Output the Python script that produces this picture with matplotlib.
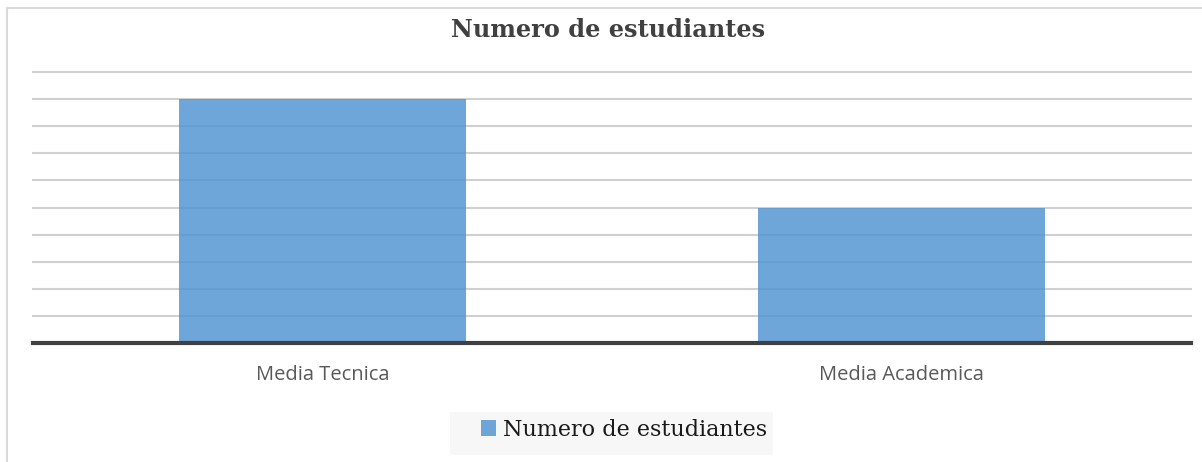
import matplotlib.pyplot as plt
from matplotlib.patches import Rectangle

categories = ['Media Tecnica', 'Media Academica']
estudiantes = [9, 5]
series_name = 'Numero de estudiantes'
title = 'Numero de estudiantes'

fig = plt.figure(figsize=(12.02, 4.62), dpi=100)

# light frame like the excel chart area
fig.add_artist(Rectangle((7 / 1202, -0.1), 1.2, (462 - 8) / 462 + 0.1, transform=fig.transFigure,
                         facecolor='none', edgecolor='#d9d9d9', linewidth=1.5))
# legend background
fig.add_artist(Rectangle((450 / 1202, 1 - 455 / 462), 323 / 1202, 43 / 462, transform=fig.transFigure,
                         facecolor='#f7f7f7', edgecolor='none'))

ax = fig.add_axes([33 / 1202, (462 - 343) / 462, 1158 / 1202, 271 / 462])
x = range(len(categories))
ax.bar(x, estudiantes, width=0.497, color='#4F93D2', alpha=0.82, label=series_name, zorder=2)
ax.set_xlim(-0.5, len(categories) - 0.5)
ax.set_ylim(0, 10)
ax.set_yticks(range(1, 11))
ax.yaxis.grid(True, color='#d0d0d0', linewidth=1.5)
ax.set_axisbelow(True)
for gl in ax.get_ygridlines():
    gl.set_clip_on(False)
ax.tick_params(axis='y', left=False, labelleft=False)
ax.tick_params(axis='x', length=0, pad=16)
ax.set_xticks(list(x))
ax.set_xticklabels(categories, fontsize=14.5, color='#595959', family='Open Sans')
for s in ['top', 'right', 'left']:
    ax.spines[s].set_visible(False)
ax.spines['bottom'].set_color('#404040')
ax.spines['bottom'].set_linewidth(3)
ax.spines['bottom'].set_zorder(3)

fig.text(608 / 1202, 1 - 30 / 462, title, ha='center', va='center', fontsize=17.3,
         fontweight='bold', family='DejaVu Serif', color='#404040')

leg = fig.legend(loc='center', bbox_to_anchor=(624 / 1202, 1 - 430 / 462), frameon=False,
                 prop={'family': 'DejaVu Serif', 'size': 16}, handlelength=0.7, handleheight=0.7,
                 handletextpad=0.3, borderpad=0, labelcolor='#1a1a1a')

fig.savefig('out.png', dpi=100)
